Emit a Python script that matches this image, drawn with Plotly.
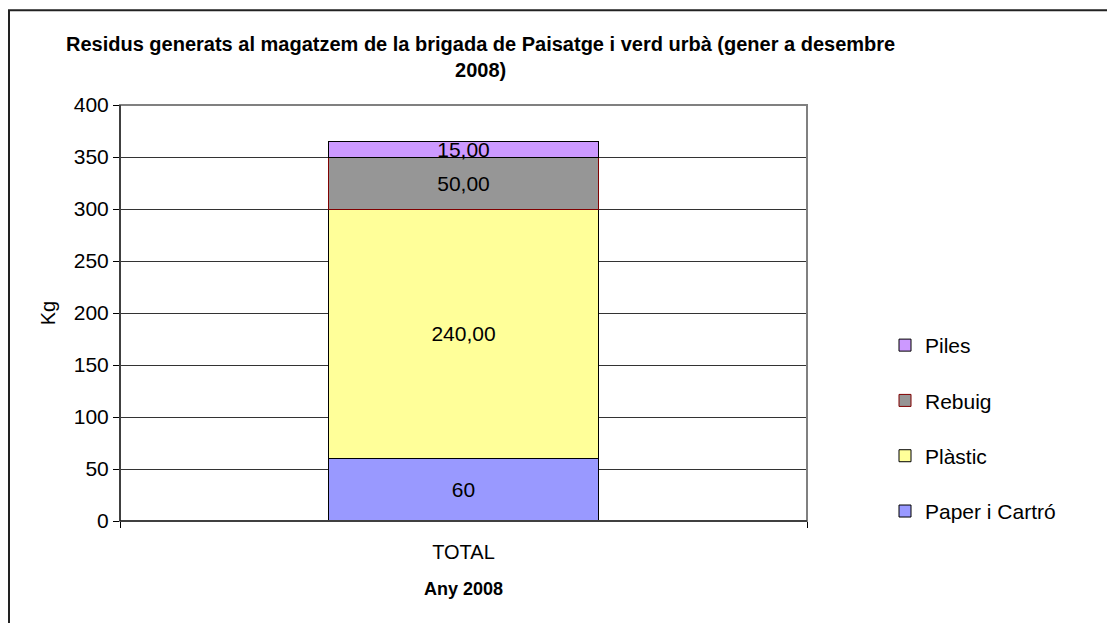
import plotly.graph_objects as go

categories = ["TOTAL"]
series_names = ["Paper i Cartró", "Plàstic", "Rebuig", "Piles"]
series_values = [[60], [240], [50], [15]]
series_labels = [["60"], ["240,00"], ["50,00"], ["15,00"]]
fill_colors = ["#9999FF", "#FFFF99", "#969696", "#CC99FF"]
edge_colors = ["#000000", "#000000", "#800000", "#000000"]
legend_ranks = [4, 3, 2, 1]
y_ticks = [0, 50, 100, 150, 200, 250, 300, 350, 400]

FONT = "Arial, Liberation Sans, sans-serif"
OFF = 8  # page offset of the figure
W, H = 1107, 615
pw, ph = 687, 417
L, T = 120 - OFF, 104.5 - OFF
R, B = W - L - pw, H - T - ph

def px(x):
    return (x - 120) / pw

def py(y):
    return (521.5 - y) / ph

fig = go.Figure()
for name, vals, labs, fc, ec, rk in zip(series_names, series_values, series_labels,
                                        fill_colors, edge_colors, legend_ranks):
    fig.add_trace(go.Bar(
        x=categories, y=vals, name=name, text=labs,
        textposition="inside", insidetextanchor="middle", textangle=0,
        constraintext="none",
        textfont=dict(family=FONT, size=21, color="#000000"),
        marker=dict(color=fc, line=dict(color=ec, width=1)),
        width=0.394, legendgroup=name, legendrank=rk,
    ))

fig.update_layout(
    width=W, height=H, barmode="stack",
    paper_bgcolor="white", plot_bgcolor="white",
    margin=dict(l=L, r=R, t=T, b=B),
    font=dict(family=FONT, color="#000000"),
    showlegend=True,
    legend=dict(
        x=px(885), y=py(325), xanchor="left", yanchor="top",
        traceorder="grouped", tracegroupgap=25,
        font=dict(family=FONT, size=21, color="#000000"),
        bgcolor="rgba(0,0,0,0)",
    ),
    xaxis=dict(
        type="category", range=[-0.5, 0.5], showline=True, linecolor="#000000",
        linewidth=1, ticks="outside", ticklen=6, tickcolor="#000000",
        tickson="boundaries", showgrid=False, ticklabelstandoff=13,
        tickfont=dict(family=FONT, size=20, color="#000000"),
        title=dict(text="<b>Any 2008</b>", font=dict(family=FONT, size=18, color="#000000"), standoff=20),
    ),
    yaxis=dict(
        range=[0, 400], tickvals=y_ticks, showline=True, linecolor="#000000",
        linewidth=1, ticks="outside", ticklen=6, tickcolor="#000000",
        showgrid=True, gridcolor="#333333", gridwidth=1, zeroline=False,
        tickfont=dict(family=FONT, size=21, color="#000000"),
        title=dict(text="Kg", font=dict(family=FONT, size=20, color="#000000"), standoff=12),
    ),
    annotations=[dict(
        x=px(480), y=py(56), xref="paper", yref="paper", xanchor="center", yanchor="middle",
        text="<b>Residus generats al magatzem de la brigada de Paisatge i verd urbà (gener a desembre<br>2008)</b>",
        showarrow=False, font=dict(family=FONT, size=20, color="#000000"),
    )],
    shapes=[
        dict(type="rect", xref="paper", yref="paper", x0=0, x1=1, y0=0, y1=1,
             line=dict(color="#808080", width=2), layer="above"),
        dict(type="line", xref="paper", yref="paper", x0=0, x1=0, y0=0, y1=1,
             line=dict(color="#000000", width=1), layer="above"),
        dict(type="line", xref="paper", yref="paper", x0=0, x1=1, y0=0, y1=0,
             line=dict(color="#000000", width=1), layer="above"),
        dict(type="rect", xref="paper", yref="paper", x0=px(9), x1=px(1140), y0=py(650), y1=py(9.5),
             line=dict(color="#222222", width=2), layer="above"),
    ],
)

fig.write_html("out.html")
